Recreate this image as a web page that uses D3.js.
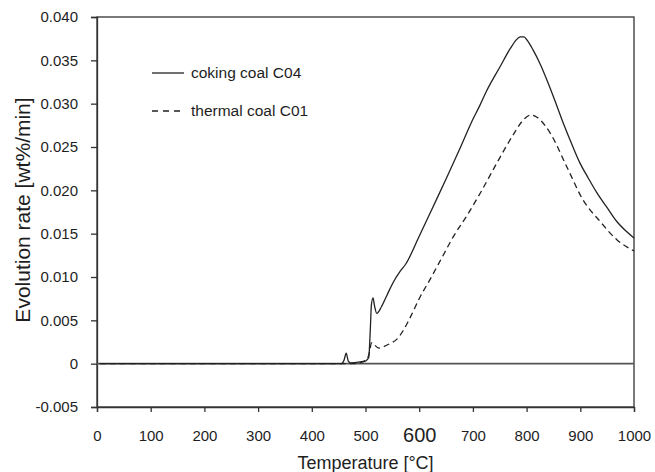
<!DOCTYPE html>
<html><head><meta charset="utf-8">
<script src="https://cdn.jsdelivr.net/npm/d3@7"></script>
<style>body{margin:0;background:#fff}svg{display:block}text{font-family:"Liberation Sans",Arial,sans-serif;fill:#1e1e1e}</style>
</head><body>
<script>
const xTicks = [0,100,200,300,400,500,600,700,800,900,1000];
const yTicks = [-0.005,0,0.005,0.010,0.015,0.020,0.025,0.030,0.035,0.040];
const yTickLabels = ["-0.005","0","0.005","0.010","0.015","0.020","0.025","0.030","0.035","0.040"];
const seriesNames = ["coking coal C04","thermal coal C01"];

const cokingT = [5,100,200,300,400,455,460,464,468,472,490,500,506,509,511,514,517,521,530,540,550,565,575,600,625,650,675,700,713,725,750,770,780,788,795,800,812,825,838,850,868,885,899,915,931,950,968,985,1000];
const cokingV = [0,0,0,0,0,0,0.0004,0.0012,0.0003,0.0001,0.0002,0.0003,0.0007,0.0040,0.0068,0.0076,0.0066,0.0058,0.0066,0.0079,0.0092,0.0107,0.0115,0.0147,0.0180,0.0213,0.0247,0.0282,0.0298,0.0314,0.0342,0.0364,0.0373,0.0377,0.0377,0.0374,0.0362,0.0346,0.0327,0.0308,0.0278,0.0252,0.0232,0.0214,0.0197,0.0180,0.0164,0.0153,0.0145];

const thermalT = [5,100,200,300,400,480,490,500,505,508,511,514,518,525,535,545,558,570,579,590,600,620,642,663,690,713,745,775,795,808,820,844,875,905,937,968,1000];
const thermalV = [0,0,0,0,0,0,0.0001,0.0004,0.0008,0.0015,0.0024,0.0024,0.0021,0.0018,0.0020,0.0023,0.0028,0.0038,0.0048,0.0062,0.0075,0.0097,0.0122,0.0146,0.0172,0.0196,0.0232,0.0264,0.0282,0.0287,0.0284,0.0266,0.0227,0.0189,0.0164,0.0143,0.0130];

const W=655,H=472, L=97,R=634,T=17,B=407;
const svg=d3.select("body").append("svg").attr("width",W).attr("height",H);
const x=d3.scaleLinear().domain([0,1000]).range([L,R]);
const y=d3.scaleLinear().domain([-0.005,0.040]).range([B,T]);

// frame
svg.append("rect").attr("x",L).attr("y",T).attr("width",R-L).attr("height",B-T)
  .attr("fill","none").attr("stroke","#333").attr("stroke-width",1.3);

// axes
const ya=svg.append("g").attr("transform",`translate(${L},0)`)
  .call(d3.axisLeft(y).tickValues(yTicks).tickSize(6).tickPadding(13).tickFormat((d,i)=>yTickLabels[i]));
const xa=svg.append("g").attr("transform",`translate(0,${B})`)
  .call(d3.axisBottom(x).tickValues(xTicks).tickSize(5).tickPadding(18).tickFormat(d3.format("d")));
[ya,xa].forEach(g=>{
  g.select(".domain").attr("stroke","#333").attr("stroke-width",1.3);
  g.selectAll(".tick line").attr("stroke","#333").attr("stroke-width",1.3);
  g.selectAll(".tick text").attr("font-size",15).attr("fill","#1e1e1e").attr("font-family","Liberation Sans, Arial, sans-serif");
});
xa.selectAll(".tick text").filter(d=>d===600).attr("font-size",20).attr("dy","0.62em");

// zero line
svg.append("line").attr("x1",x(0)).attr("x2",x(1000)).attr("y1",y(0)).attr("y2",y(0))
  .attr("stroke","#555").attr("stroke-width",1.7);

const line=d3.line().x(d=>x(d[0])).y(d=>y(d[1])).curve(d3.curveMonotoneX);
svg.append("path").datum(cokingT.map((t,i)=>[t,cokingV[i]])).attr("d",line)
  .attr("fill","none").attr("stroke","#222").attr("stroke-width",1.3);
svg.append("path").datum(thermalT.map((t,i)=>[t,thermalV[i]])).attr("d",line)
  .attr("fill","none").attr("stroke","#222").attr("stroke-width",1.3).attr("stroke-dasharray","6,4");

// legend
const lg=svg.append("g");
[[73,null],[111,"6,5"]].forEach((o,i)=>{
  lg.append("line").attr("x1",152).attr("x2",184).attr("y1",o[0]).attr("y2",o[0])
    .attr("stroke","#222").attr("stroke-width",1.3).attr("stroke-dasharray",o[1]);
  lg.append("text").attr("x",191).attr("y",o[0]).attr("dy","0.35em").attr("font-size",15.5).text(seriesNames[i]);
});

// titles
svg.append("text").attr("x",(L+R)/2).attr("y",469).attr("text-anchor","middle").attr("font-size",18).text("Temperature [°C]");
svg.append("text").attr("transform",`translate(30,210) rotate(-90)`).attr("text-anchor","middle").attr("font-size",21).text("Evolution rate [wt%/min]");
</script>
</body></html>
